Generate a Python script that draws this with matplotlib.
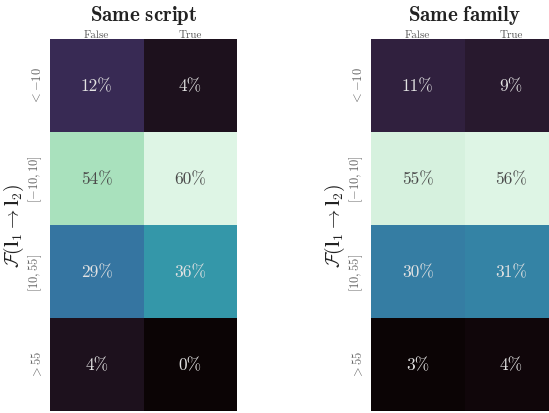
import numpy as np
import matplotlib
matplotlib.use("Agg")
import matplotlib.pyplot as plt
import seaborn as sns

# data (percent)
row_labels = [r"$<-10$", r"$[-10,10]$", r"$[10,55]$", r"$>55$"]
col_labels = ["False", "True"]
same_script = [[12, 4], [54, 60], [29, 36], [4, 0]]
same_family = [[11, 9], [55, 56], [30, 31], [3, 4]]
titles = [r"$\mathbf{Same\ script}$", r"$\mathbf{Same\ family}$"]

plt.rcParams["font.family"] = "cmr10"
plt.rcParams["mathtext.fontset"] = "cm"
plt.rcParams["axes.formatter.use_mathtext"] = True

fig = plt.figure(figsize=(5.49, 4.14), dpi=100)
ax1 = fig.add_axes([50 / 549, 2 / 414, 187 / 549, 372 / 414])
ax2 = fig.add_axes([371 / 549, 2 / 414, 187 / 549, 372 / 414])

for ax, data, title in zip([ax1, ax2], [same_script, same_family], titles):
    data = np.array(data)
    sns.heatmap(data, ax=ax, cmap="mako", cbar=False, annot=False,
                xticklabels=col_labels, yticklabels=row_labels)
    lo, hi = data.min(), data.max()
    for i in range(data.shape[0]):
        for j in range(data.shape[1]):
            v = data[i, j]
            c = "#4a4a4a" if (v - lo) / (hi - lo) > 0.75 else "#e2e2e2"
            ax.text(j + 0.5, i + 0.5, f"{v}%", ha="center", va="center",
                    fontsize=12.5, color=c)
    ax.xaxis.tick_top()
    ax.tick_params(axis="x", length=0, labelsize=8, colors="#555555", pad=0)
    ax.tick_params(axis="y", length=0, labelsize=9, colors="#666666", pad=4)
    plt.setp(ax.get_yticklabels(), rotation=90, va="center")
    ax.set_title(title, fontsize=15, color="#222222", pad=7)
    ax.set_ylabel(r"$\mathcal{F}(\mathbf{l}_1 \rightarrow \mathbf{l}_2)$",
                  fontsize=14, color="#222222", labelpad=1)

fig.savefig("out.png", dpi=100)
